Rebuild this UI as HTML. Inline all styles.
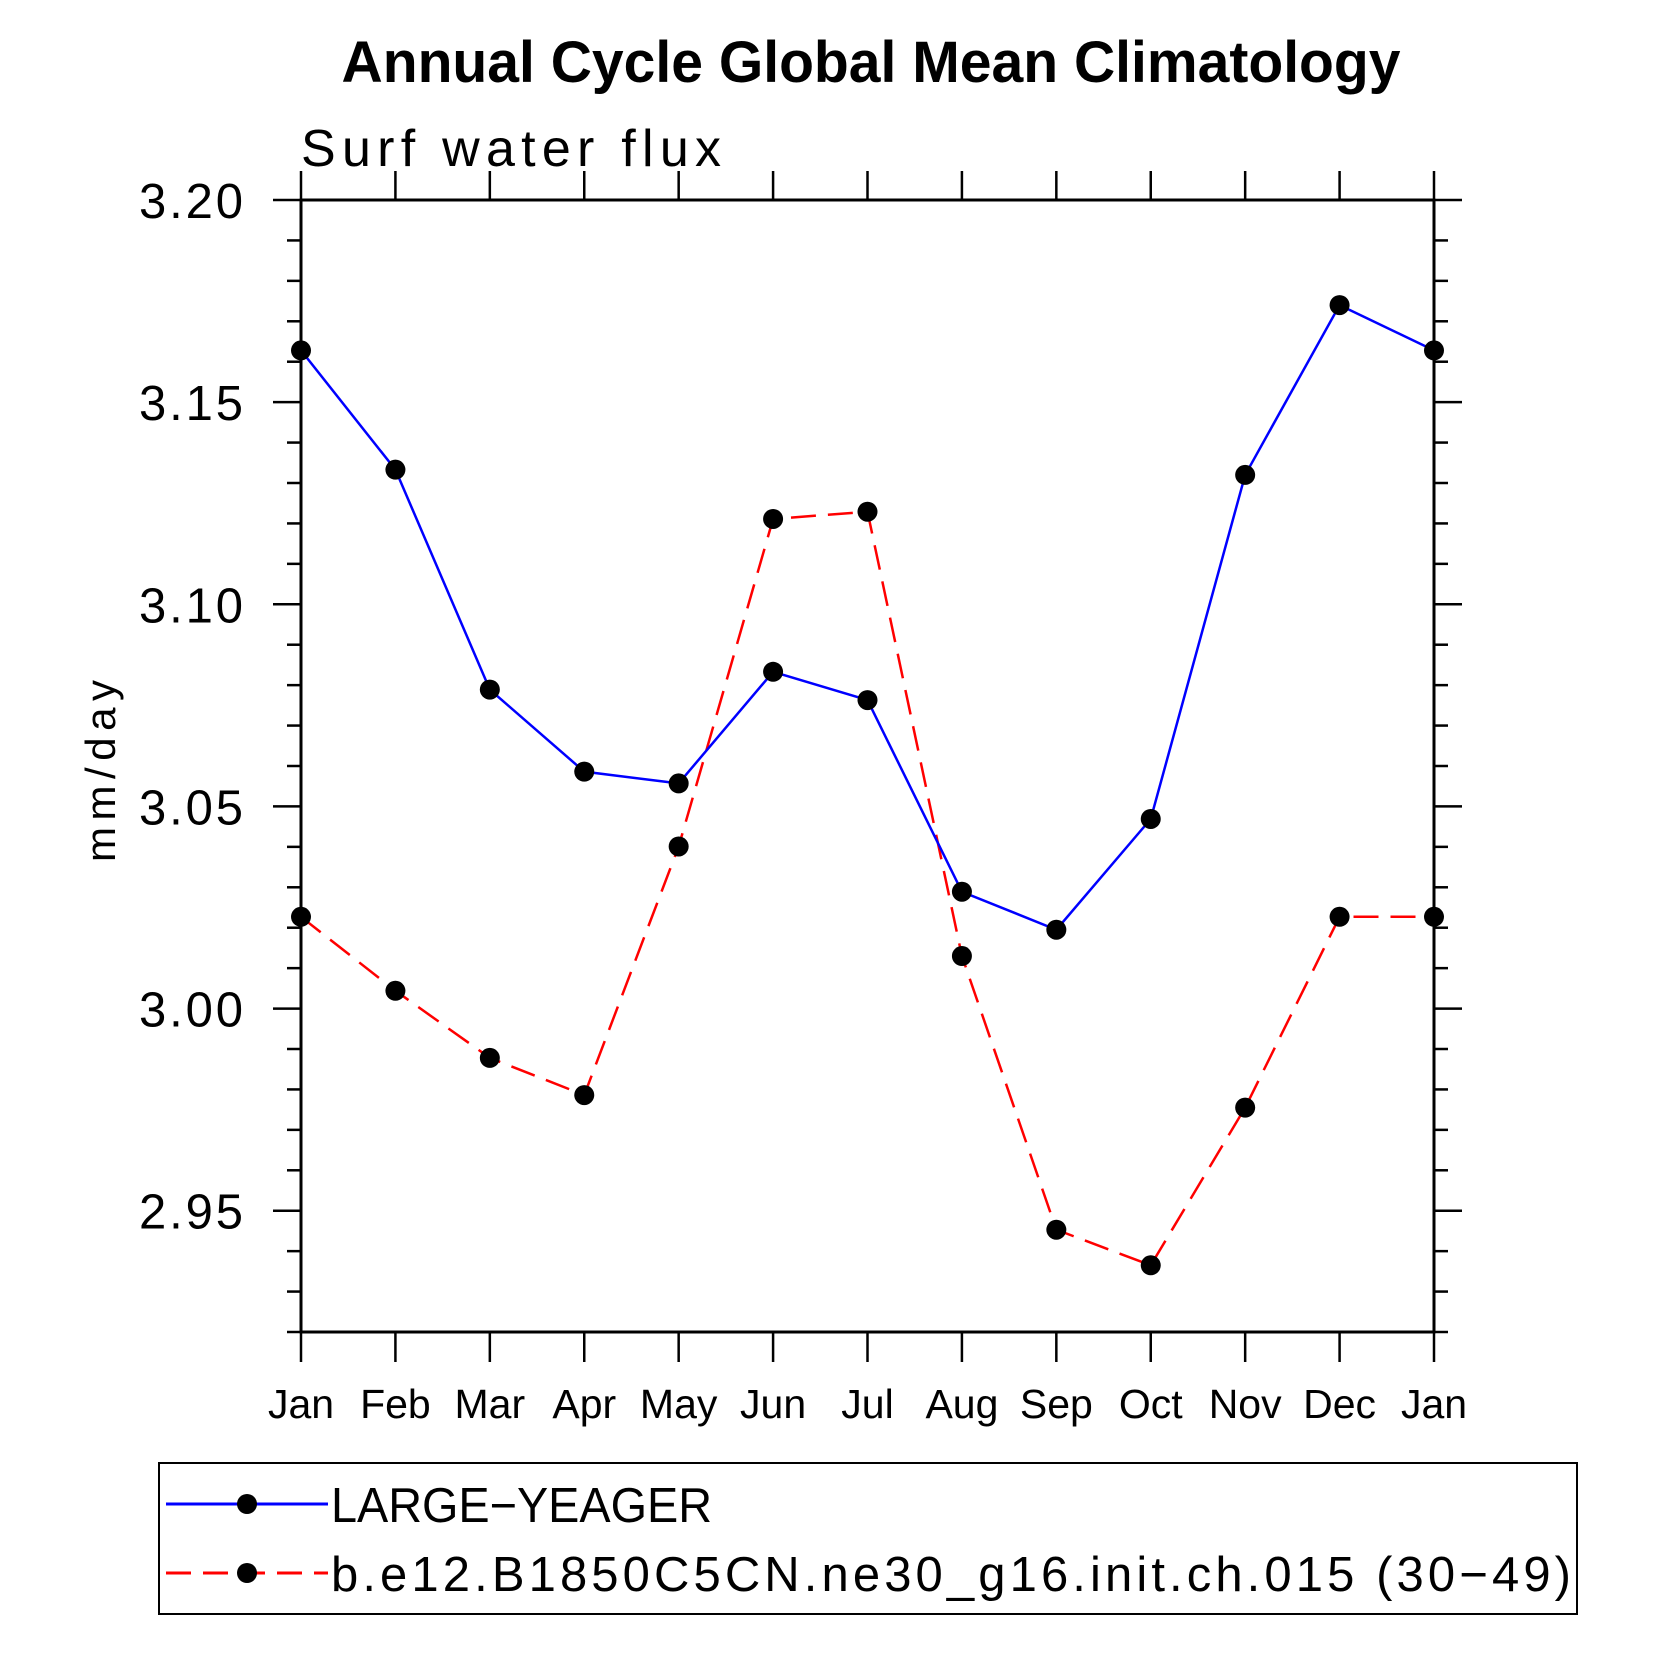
<!DOCTYPE html>
<html><head><meta charset="utf-8"><style>
html,body{margin:0;padding:0;background:#fff}
svg{display:block}
text{font-family:"Liberation Sans",sans-serif;fill:#000}
</style></head><body>
<svg id="chart" width="1653" height="1653" viewBox="0 0 1653 1653">
<text x="871" y="82" text-anchor="middle" font-size="58" font-weight="bold" textLength="1059" lengthAdjust="spacingAndGlyphs">Annual Cycle Global Mean Climatology</text>
<text x="301" y="166" font-size="52" textLength="420" lengthAdjust="spacing">Surf water flux</text>
<text transform="translate(115,771) rotate(-90)" text-anchor="middle" font-size="42" textLength="182" lengthAdjust="spacing">mm/day</text>
<g id="axes"></g>
<g id="series"></g>
<g id="legend">
<rect x="159" y="1463" width="1418" height="151" fill="none" stroke="#000" stroke-width="2"/>
<g>
<line x1="166" y1="1504" x2="328" y2="1504" stroke="#0000ff" stroke-width="3"/>
<circle cx="247" cy="1504" r="10" fill="#000"/>
<text x="331" y="1522" font-size="49" textLength="381" lengthAdjust="spacingAndGlyphs">LARGE−YEAGER</text>
</g>
<g>
<line x1="166" y1="1573" x2="328" y2="1573" stroke="#ff0000" stroke-width="3" stroke-dasharray="25,12"/>
<circle cx="247" cy="1573" r="10" fill="#000"/>
<text x="331" y="1591" font-size="49" textLength="1240" lengthAdjust="spacing">b.e12.B1850C5CN.ne30_g16.init.ch.015 (30−49)</text>
</g>
</g>
</svg>
<script>
const months = ["Jan","Feb","Mar","Apr","May","Jun","Jul","Aug","Sep","Oct","Nov","Dec","Jan"];
const largeYeager = [3.1628,3.1333,3.0789,3.0586,3.0557,3.0833,3.0763,3.0289,3.0195,3.0469,3.1320,3.1740,3.1628];
const caseRun = [3.0227,3.0044,2.9878,2.9786,3.0401,3.1211,3.1229,3.0130,2.9453,2.9365,2.9755,3.0227,3.0227];
const yTickLabels = ["2.95","3.00","3.05","3.10","3.15","3.20"];
const yMin = 2.92, yMax = 3.20;

const NS = "http://www.w3.org/2000/svg";
const L = 301, R = 1434, T = 200, B = 1332;
const xs = i => L + (R - L) * i / (months.length - 1);
const ys = v => B - (v - yMin) / (yMax - yMin) * (B - T);
function mk(tag, attrs, parent) {
  const e = document.createElementNS(NS, tag);
  for (const k in attrs) e.setAttribute(k, attrs[k]);
  parent.appendChild(e);
  return e;
}
const axes = document.getElementById('axes');
const frame = mk('rect', {x:L, y:T, width:R-L, height:B-T, fill:'none', stroke:'#000', 'stroke-width':3}, axes);


for (let k = 0; k <= 28; k++) {
  const v = yMin + k * 0.01;
  const y = ys(v);
  const major = (k - 3) % 5 === 0;
  const len = major ? 28 : 14;
  mk('line', {x1:L-len, y1:y, x2:L, y2:y, stroke:'#000', 'stroke-width':2.5}, axes);
  mk('line', {x1:R, y1:y, x2:R+len, y2:y, stroke:'#000', 'stroke-width':2.5}, axes);
}
yTickLabels.forEach(lbl => {
  const t = mk('text', {x:243, y:ys(parseFloat(lbl))+18, 'text-anchor':'end', 'font-size':49, textLength:104, lengthAdjust:'spacing'}, axes);
  t.textContent = lbl;
  
  
});
months.forEach((m, i) => {
  const x = xs(i);
  mk('line', {x1:x, y1:T-29, x2:x, y2:T, stroke:'#000', 'stroke-width':2.5}, axes);
  mk('line', {x1:x, y1:B, x2:x, y2:B+30, stroke:'#000', 'stroke-width':2.5}, axes);
  const t = mk('text', {x:x, y:1418, 'text-anchor':'middle', 'font-size':41}, axes);
  t.textContent = m;
  
  
});
const series = document.getElementById('series');
function draw(vals, color, dash, name) {
  const g = mk('g', {}, series);
  
  
  const pts = vals.map((v, i) => xs(i) + ',' + ys(v)).join(' ');
  const attrs = {points:pts, fill:'none', stroke:color, 'stroke-width':2.5};
  if (dash) attrs['stroke-dasharray'] = dash;
  mk('polyline', attrs, g);
  vals.forEach((v, i) => {
    const c = mk('circle', {cx:xs(i), cy:ys(v), r:10, fill:'#000'}, g);
    
    
  });
}
draw(caseRun, '#ff0000', '25,12', 'series-b-e12');
draw(largeYeager, '#0000ff', null, 'series-large-yeager');
</script>
</body></html>
